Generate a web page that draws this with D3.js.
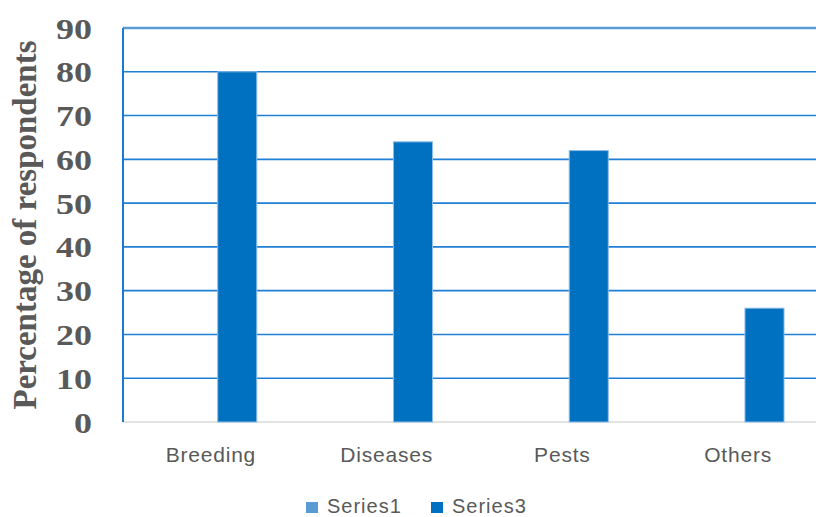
<!DOCTYPE html>
<html>
<head>
<meta charset="utf-8">
<script src="https://cdn.jsdelivr.net/npm/d3@7"></script>
<style>
  html, body { margin: 0; padding: 0; background: #fff; overflow: hidden; }
  svg { display: block; }
</style>
</head>
<body>
<div id="chart"></div>
<script>
const categories = ["Breeding", "Diseases", "Pests", "Others"];
const seriesNames = ["Series1", "Series3"];
const series1 = [0, 0, 0, 0];
const series3 = [80, 64, 62, 26];
const yTicks = [0, 10, 20, 30, 40, 50, 60, 70, 80, 90];
const seriesColors = ["#5b9bd5", "#0070c0"];

const width = 816;
const height = 517;
const plotLeft = 123, plotTop = 28, plotBottom = 422, plotRight = 826;

const svg = d3.select("#chart").append("svg")
  .attr("width", width)
  .attr("height", height);

const y = d3.scaleLinear().domain([0, 90]).range([plotBottom, plotTop]);

const x = d3.scaleBand()
  .domain(categories)
  .range([plotLeft, plotRight])
  .padding(0);

const xs = d3.scaleBand()
  .domain(seriesNames)
  .range([0, x.bandwidth()])
  .paddingInner(0)
  .paddingOuter(1.25)
  .align(0.57);

// gridlines
svg.append("g")
  .selectAll("line")
  .data(yTicks.filter((d) => d > 0))
  .enter()
  .append("line")
  .attr("x1", plotLeft)
  .attr("x2", width)
  .attr("y1", (d) => y(d))
  .attr("y2", (d) => y(d))
  .attr("stroke", (d) => d === 90 ? "#5b9bd5" : "#1f7fd4")
  .attr("stroke-width", (d) => d === 90 ? 2.5 : 1.6);

// baseline
svg.append("line")
  .attr("x1", plotLeft).attr("x2", width)
  .attr("y1", y(0)).attr("y2", y(0))
  .attr("stroke", "#d9d9d9")
  .attr("stroke-width", 1.5);

// left axis line
svg.append("line")
  .attr("x1", plotLeft).attr("x2", plotLeft)
  .attr("y1", y(90)).attr("y2", y(0))
  .attr("stroke", "#1a7ad2")
  .attr("stroke-width", 2);

// bars
const data = [];
categories.forEach((c, i) => {
  data.push({ cat: c, series: "Series1", value: series1[i] });
  data.push({ cat: c, series: "Series3", value: series3[i] });
});

svg.selectAll("rect.bar")
  .data(data.filter((d) => d.value > 0))
  .enter()
  .append("rect")
  .attr("class", "bar")
  .attr("x", (d) => x(d.cat) + xs(d.series))
  .attr("y", (d) => y(d.value))
  .attr("width", xs.bandwidth())
  .attr("height", (d) => y(0) - y(d.value))
  .attr("fill", (d) => seriesColors[seriesNames.indexOf(d.series)])
  .attr("stroke", "#8fbde6")
  .attr("stroke-width", 1);

// y tick labels (a little wide, like the original)
svg.selectAll("text.ytick")
  .data(yTicks)
  .enter()
  .append("text")
  .attr("class", "ytick")
  .attr("transform", (d) => `translate(92, ${y(d)}) scale(1.2, 1)`)
  .attr("dy", "0.35em")
  .attr("text-anchor", "end")
  .attr("font-family", "'Liberation Serif', 'Times New Roman', serif")
  .attr("font-weight", "bold")
  .attr("font-size", 30)
  .attr("fill", "#595959")
  .text((d) => d);

// x labels
svg.selectAll("text.xlab")
  .data(categories)
  .enter()
  .append("text")
  .attr("class", "xlab")
  .attr("x", (d) => x(d) + x.bandwidth() / 2)
  .attr("y", 462)
  .attr("text-anchor", "middle")
  .attr("font-family", "'Liberation Sans', Arial, sans-serif")
  .attr("font-size", 21)
  .attr("letter-spacing", 0.8)
  .attr("fill", "#595959")
  .text((d) => d);

// y axis title
svg.append("text")
  .attr("transform", "translate(36, 225) rotate(-90)")
  .attr("text-anchor", "middle")
  .attr("font-family", "'Liberation Serif', 'Times New Roman', serif")
  .attr("font-weight", "bold")
  .attr("font-size", 33)
  .attr("fill", "#595959")
  .text("Percentage of respondents");

// legend
const legendX = [306, 431];
const legend = svg.selectAll("g.legend")
  .data(seriesNames)
  .enter()
  .append("g")
  .attr("class", "legend")
  .attr("transform", (d, i) => `translate(${legendX[i]}, 502)`);

legend.append("rect")
  .attr("width", 12)
  .attr("height", 11)
  .attr("fill", (d, i) => seriesColors[i]);

legend.append("text")
  .attr("x", 21)
  .attr("y", 11)
  .attr("font-family", "'Liberation Sans', Arial, sans-serif")
  .attr("font-size", 20)
  .attr("letter-spacing", 1)
  .attr("fill", "#595959")
  .text((d) => d);
</script>
</body>
</html>
